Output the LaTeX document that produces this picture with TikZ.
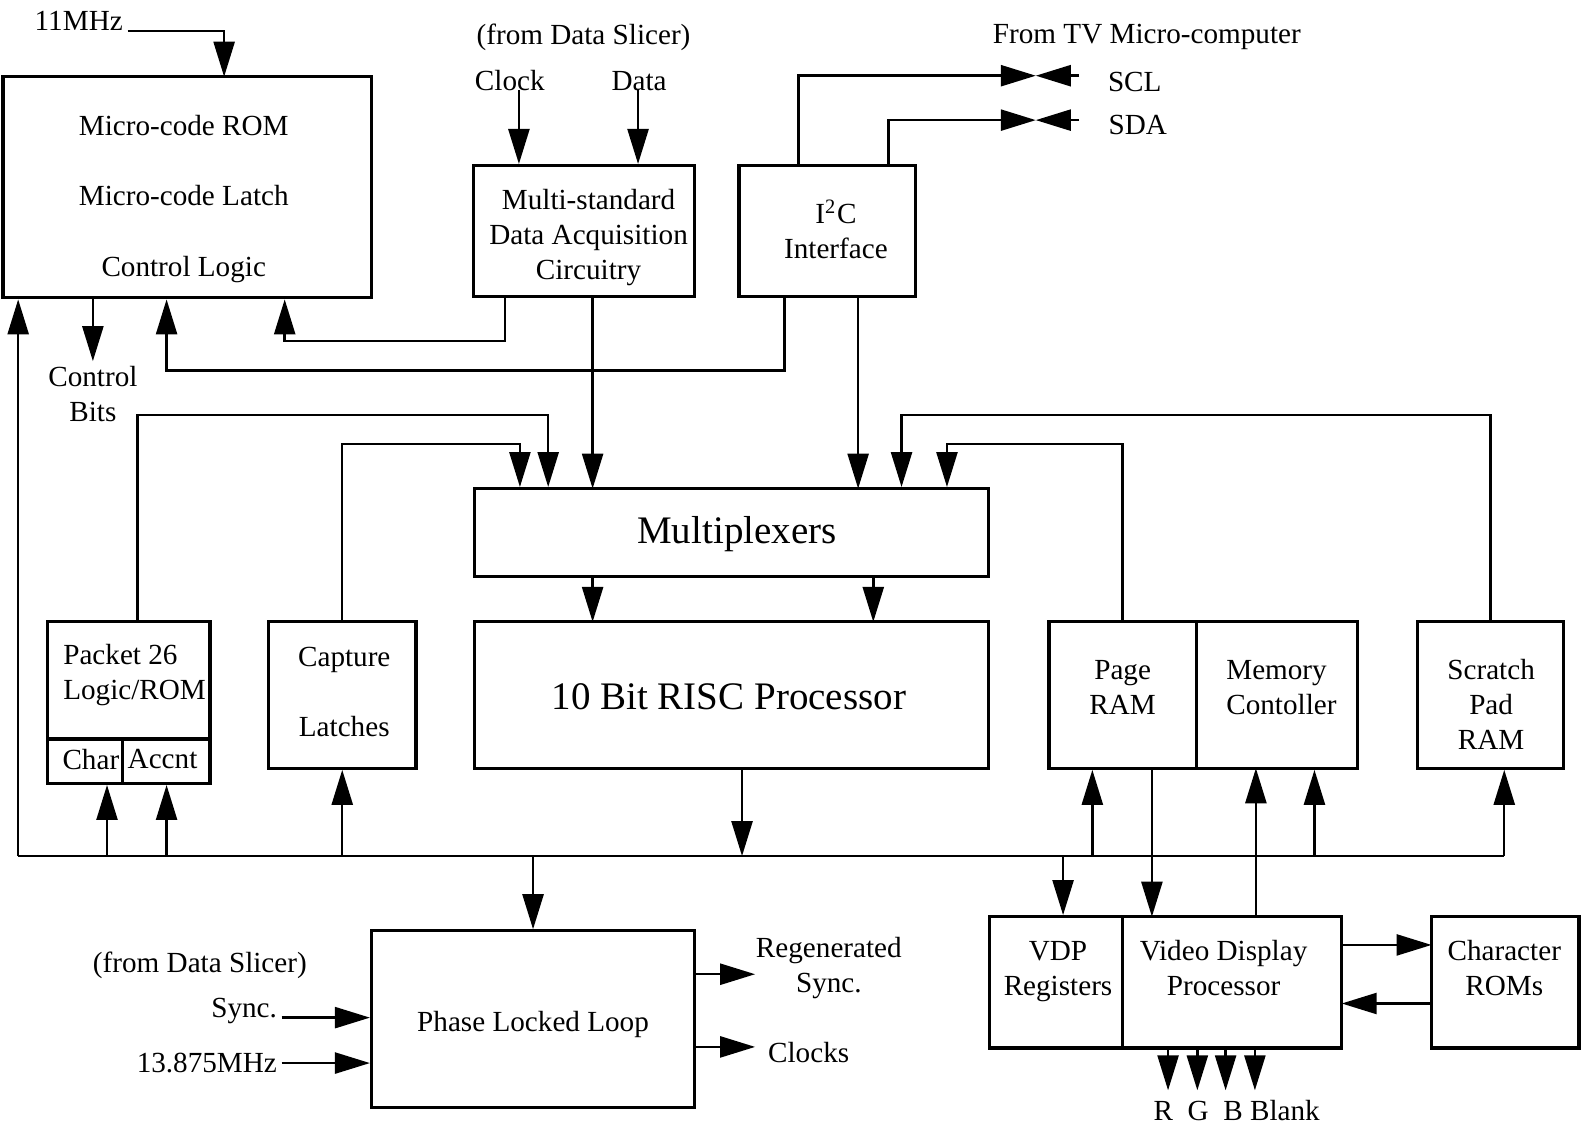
\documentclass[tikz,border=0pt]{standalone}
\usepackage{fontspec}
\setmainfont{Liberation Serif}
\usetikzlibrary{arrows.meta,fit}
\begin{document}
\begin{tikzpicture}[x=0.10096mm,y=-0.10096mm,line width=0.7pt,
    box/.style={draw,line width=0.9pt,inner sep=0pt},
    arr/.style={-{Triangle[length=3.5mm,width=2.1mm]}},
    lbl/.style={font=\fontsize{8.3}{10}\selectfont,align=center,inner sep=1pt},
    big/.style={font=\fontsize{11.1}{13}\selectfont,inner sep=1pt}]
  \useasboundingbox (0,0) rectangle (1568,1116);
  % blocks
  \node[box,fit={(3,76)(368,295)}] (ucode) {};
  \node[box,fit={(469,164)(688,294)}] (ms) {};
  \node[box,fit={(732,164)(907,294)}] (i2c) {};
  \node[box,fit={(470,484)(979,571)}] (mux) {};
  \node[box,fit={(470,616)(979,761)}] (risc) {};
  \node[box,fit={(47,616)(208,776)}] (pkt) {};
  \node[box,fit={(47,732)(121,776)}] (char) {};
  \node[box,fit={(121,732)(208,776)}] (accnt) {};
  \node[box,fit={(266,616)(412,761)}] (cap) {};
  \node[box,fit={(1039,616)(1185,761)}] (page) {};
  \node[box,fit={(1185,616)(1345,761)}] (memc) {};
  \node[box,fit={(1404,616)(1549,761)}] (scratch) {};
  \node[box,fit={(368,922)(688,1097)}] (pll) {};
  \node[box,fit={(980,908)(1112,1038)}] (vdpr) {};
  \node[box,fit={(1112,908)(1329,1038)}] (vdp) {};
  \node[box,fit={(1418,908)(1564,1038)}] (crom) {};
  % texts
  \node[lbl] (ucode-t) at (182,197) {Micro-code ROM\\[10pt]Micro-code Latch\\[10pt]Control Logic};
  \node[lbl] (ms-t) at (583,235) {Multi-standard\\Data Acquisition\\Circuitry};
  \node[lbl] (i2c-t) at (828,227) {I\textsuperscript{2}C\\Interface};
  \node[big] (mux-t) at (730,529) {Multiplexers};
  \node[big] (risc-t) at (722,690) {10 Bit RISC Processor};
  \node[lbl,align=left,anchor=west] (pkt-t) at (58,669) {Packet 26\\Logic/ROM};
  \node[lbl] (char-t) at (90,752) {Char};
  \node[lbl] (accnt-t) at (161,752) {Accnt};
  \node[lbl] (cap-t) at (341,685.5) {Capture\\[10pt]Latches};
  \node[lbl] (page-t) at (1112,681) {Page\\RAM};
  \node[lbl,align=left,anchor=west] (memc-t) at (1210,681) {Memory\\Contoller};
  \node[lbl] (scratch-t) at (1477,698) {Scratch\\Pad\\RAM};
  \node[lbl] (pll-t) at (528,1015) {Phase Locked Loop};
  \node[lbl] (vdpr-t) at (1048,962) {VDP\\Registers};
  \node[lbl] (vdp-t) at (1212,959) {Video Display\\Processor};
  \node[lbl] (crom-t) at (1490,959) {Character\\ROMs};
  \node[lbl] (mhz11) at (78,21) {11MHz};
  \node[lbl] (slicer) at (578,37) {(from Data Slicer)};
  \node[lbl] (clock-t) at (505,80) {Clock};
  \node[lbl] (data-t) at (633,80) {Data};
  \node[lbl] (tv) at (1136,37) {From TV Micro-computer};
  \node[lbl] (scl-t) at (1124,81) {SCL};
  \node[lbl] (sda-t) at (1127,124) {SDA};
  \node[lbl] (ctrl) at (92,390) {Control\\Bits};
  \node[lbl] (slicer2) at (198,956) {(from Data Slicer)};
  \node[lbl,anchor=base east] (sync) at (279,1008) {Sync.};
  \node[lbl,anchor=east] (mhz13) at (279,1053) {13.875MHz};
  \node[lbl] (regen-t) at (821,959) {Regenerated\\Sync.};
  \node[lbl] (clks-t) at (801,1043) {Clocks};
  \node[lbl] (rgb-t) at (1225,1100) {R\ \ G\ \ B Blank};
  % ports
  \coordinate (uin) at (222,76);
  \coordinate (clk) at (514,89);
  \coordinate (dat) at (632,89);
  \coordinate (sclx) at (791,0);
  \coordinate (sdax) at (880,0);
  \coordinate (scl) at (1026,75);
  \coordinate (sclin) at (1069,75);
  \coordinate (sda) at (1026,119);
  \coordinate (sdain) at (1069,119);
  \coordinate (iu1) at (777,367);
  \coordinate (iu2) at (165,367);
  \coordinate (mu1) at (500,338);
  \coordinate (mu2) at (282,338);
  \coordinate (msm) at (587,484);
  \coordinate (i2cm) at (850,484);
  \coordinate (rk1) at (587,616);
  \coordinate (rk2) at (865,616);
  \coordinate (pk1) at (136,411);
  \coordinate (pk2) at (543,411);
  \coordinate (cp) at (515,440);
  \coordinate (pg) at (938,440);
  \coordinate (sc) at (893,411);
  \coordinate (busL) at (18,848);
  \coordinate (busR) at (1490,848);
  \coordinate (bch) at (106,848);
  \coordinate (bac) at (165,848);
  \coordinate (brisc) at (735,848);
  \coordinate (bvdp) at (1053,848);
  \coordinate (bpage) at (1082,848);
  \coordinate (bmem) at (1302,848);
  \coordinate (pgv) at (1141,908);
  \coordinate (vmc) at (1244,761);
  \coordinate (regen) at (748,965);
  \coordinate (clks) at (748,1037);
  \coordinate (vc1) at (1418,936);
  \coordinate (vc2) at (1329,994);
  % inputs
  \draw[arr] (mhz11.base east) -| (uin);
  \draw[arr] (clk) -- (clk |- ms.north);
  \draw[arr] (dat) -- (dat |- ms.north);
  \draw[arr] (sclx |- i2c.north) |- (scl);
  \draw[arr] (sclin) -- (scl);
  \draw[arr] (sdax |- i2c.north) |- (sda);
  \draw[arr] (sdain) -- (sda);
  % control
  \draw[arr] (ucode.south -| ctrl.north) -- (ctrl.north);
  \draw[arr] (i2c.south -| iu1) -- (iu1) -- (iu2) -- (iu2 |- ucode.south);
  \draw[arr] (ms.south -| mu1) -- (mu1) -- (mu2) -- (mu2 |- ucode.south);
  % into multiplexers
  \draw[arr] (ms.south -| msm) -- (msm);
  \draw[arr] (i2c.south -| i2cm) -- (i2cm);
  \draw[arr] (pkt.north -| pk1) -- (pk1) -- (pk2) -- (pk2 |- mux.north);
  \draw[arr] (cap.north) |- (cp) -- (cp |- mux.north);
  \draw[arr] (page.north) |- (pg) -- (pg |- mux.north);
  \draw[arr] (scratch.north) |- (sc) -- (sc |- mux.north);
  \draw[arr] (mux.south -| rk1) -- (rk1);
  \draw[arr] (mux.south -| rk2) -- (rk2);
  % bus
  \draw (busL) -- (busR);
  \draw[arr] (busL) -- (busL |- ucode.south);
  \draw[arr] (busR) -- (busR |- scratch.south);
  \draw[arr] (bch) -- (bch |- pkt.south);
  \draw[arr] (bac) -- (bac |- pkt.south);
  \draw[arr] (cap.south |- busL) -- (cap.south);
  \draw[arr] (brisc |- risc.south) -- (brisc);
  \draw[arr] (pll.north |- busL) -- (pll.north);
  \draw[arr] (bvdp) -- (bvdp |- vdpr.north);
  \draw[arr] (bpage) -- (bpage |- page.south);
  \draw[arr] (bmem) -- (bmem |- memc.south);
  \draw[arr] (page.south -| pgv) -- (pgv);
  \draw[arr] (vdp.north -| vmc) -- (vmc);
  % pll and display
  \draw[arr] (sync.base east) -- (sync.base east -| pll.west);
  \draw[arr] (mhz13.east) -- (mhz13.east -| pll.west);
  \draw[arr] (pll.east |- regen) -- (regen);
  \draw[arr] (pll.east |- clks) -- (clks);
  \draw[arr] (vdp.east |- vc1) -- (vc1);
  \draw[arr] (crom.west |- vc2) -- (vc2);
  \foreach \x [count=\i] in {1157,1186,1214,1243} {
    \coordinate (rgb\i) at (\x,1080);
    \draw[arr] (vdp.south -| rgb\i) -- (rgb\i);
  }
\end{tikzpicture}
\end{document}
